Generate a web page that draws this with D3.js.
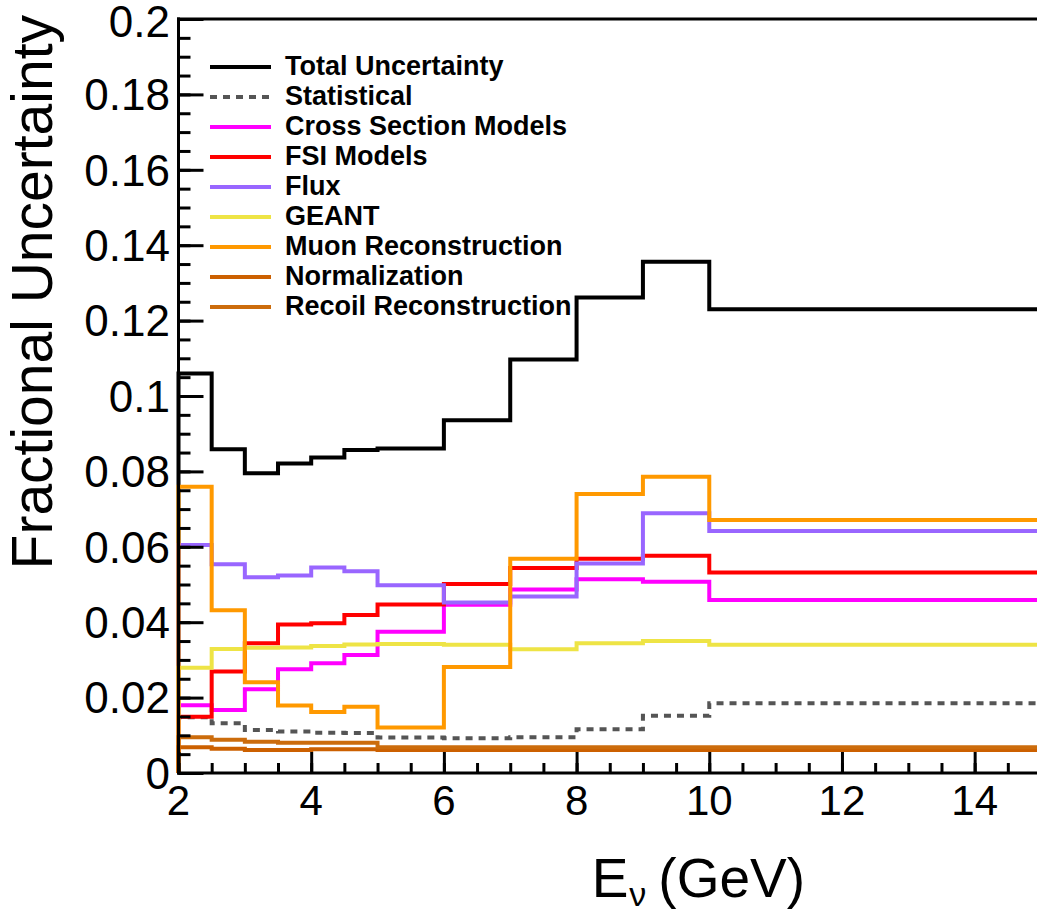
<!DOCTYPE html>
<html>
<head>
<meta charset="utf-8">
<script src="https://cdn.jsdelivr.net/npm/d3@7"></script>
<style>
  body { margin: 0; background: #fff; }
  svg { display: block; }
  text { font-family: "Liberation Sans", Arial, Helvetica, sans-serif; }
</style>
</head>
<body>
<svg id="chart" width="1037" height="920"></svg>
<script>
// ---- data ----
const binEdges = [2, 2.5, 3, 3.5, 4, 4.5, 5, 6, 7, 8, 9, 10, 15];
const totalUnc   = [0.1060, 0.0859, 0.0795, 0.0821, 0.0837, 0.0857, 0.0861, 0.0936, 0.1097, 0.1261, 0.1356, 0.1230];
const statistical= [0.0148, 0.0132, 0.0114, 0.0110, 0.0107, 0.0106, 0.0094, 0.0092, 0.0095, 0.0116, 0.0152, 0.0185];
const xsecModels = [0.0180, 0.0167, 0.0222, 0.0275, 0.0291, 0.0313, 0.0375, 0.0446, 0.0487, 0.0514, 0.0507, 0.0459];
const fsiModels  = [0.0149, 0.0269, 0.0344, 0.0394, 0.0397, 0.0419, 0.0447, 0.0501, 0.0544, 0.0568, 0.0576, 0.0532];
const flux       = [0.0605, 0.0554, 0.0519, 0.0524, 0.0545, 0.0535, 0.0498, 0.0452, 0.0468, 0.0556, 0.0689, 0.0642];
const geant      = [0.0279, 0.0329, 0.0332, 0.0333, 0.0337, 0.0341, 0.0342, 0.0340, 0.0328, 0.0344, 0.0350, 0.0340];
const muonReco   = [0.0759, 0.0432, 0.0241, 0.0179, 0.0162, 0.0176, 0.0121, 0.0281, 0.0568, 0.0740, 0.0786, 0.0671];
const normalization = [0.0068, 0.0064, 0.0061, 0.0061, 0.0063, 0.0063, 0.0061, 0.0061, 0.0061, 0.0061, 0.0061, 0.0061];
const recoilReco = [0.0095, 0.0088, 0.0083, 0.0080, 0.0080, 0.0080, 0.0068, 0.0068, 0.0068, 0.0068, 0.0068, 0.0068];

const seriesNames  = ["Total Uncertainty", "Statistical", "Cross Section Models", "FSI Models", "Flux", "GEANT", "Muon Reconstruction", "Normalization", "Recoil Reconstruction"];
const seriesValues = [totalUnc, statistical, xsecModels, fsiModels, flux, geant, muonReco, normalization, recoilReco];
const seriesColors = ["#000000", "#555555", "#ff00ff", "#ff0000", "#9966ff", "#eee445", "#ff9900", "#cc6000", "#cc6c0c"];
const seriesDash   = [null, "7,6", null, null, null, null, null, null, null];

const yTicks = [0, 0.02, 0.04, 0.06, 0.08, 0.1, 0.12, 0.14, 0.16, 0.18, 0.2];
const yTickLabels = ["0", "0.02", "0.04", "0.06", "0.08", "0.1", "0.12", "0.14", "0.16", "0.18", "0.2"];
const xTicks = [2, 4, 6, 8, 10, 12, 14];
const xTickLabels = ["2", "4", "6", "8", "10", "12", "14"];

// ---- layout ----
const svg = d3.select("#chart");
const pLeft = 178.5, pRight = 1041, pTop = 19, pBottom = 773;
const x = d3.scaleLinear().domain([2, 15]).range([pLeft, pRight]);
const y = d3.scaleLinear().domain([0, 0.2]).range([pBottom, pTop]);

// histogram step path
function stepPoints(vals) {
  const pts = [[binEdges[0], 0]];
  vals.forEach((v, i) => {
    pts.push([binEdges[i], v]);
    pts.push([binEdges[i + 1], v]);
  });
  pts.push([binEdges[binEdges.length - 1], 0]);
  return pts;
}
const line = d3.line().x(d => x(d[0])).y(d => y(d[1]));

const plot = svg.append("g");
seriesValues.forEach((vals, i) => {
  plot.append("path")
    .attr("d", line(stepPoints(vals)))
    .attr("fill", "none")
    .attr("stroke", seriesColors[i])
    .attr("stroke-width", 4)
    .attr("stroke-linejoin", "miter")
    .attr("stroke-dasharray", seriesDash[i]);
});

// ---- axes ----
const yMinor = d3.range(0, 0.2001, 0.005);
const yAxisMinor = d3.axisRight(y).tickValues(yMinor).tickSize(12).tickFormat("");
const yAxisMajor = d3.axisRight(y).tickValues(yTicks).tickSize(25).tickFormat("");
[yAxisMinor, yAxisMajor].forEach(ax => {
  const g = svg.append("g").attr("transform", `translate(${pLeft},0)`).call(ax);
  g.select(".domain").remove();
  g.selectAll("line").attr("stroke", "#000").attr("stroke-width", 3);
});
const xMinor = d3.range(2, 15.001, 0.5);
const xAxisMinor = d3.axisTop(x).tickValues(xMinor).tickSize(10).tickFormat("");
const xAxisMajor = d3.axisTop(x).tickValues(xTicks).tickSize(21).tickFormat("");
[xAxisMinor, xAxisMajor].forEach(ax => {
  const g = svg.append("g").attr("transform", `translate(0,${pBottom})`).call(ax);
  g.select(".domain").remove();
  g.selectAll("line").attr("stroke", "#000").attr("stroke-width", 3);
});

// frame lines
svg.append("line").attr("x1", pLeft).attr("x2", pLeft).attr("y1", pTop - 1.5).attr("y2", pBottom + 1.5)
  .attr("stroke", "#000").attr("stroke-width", 3);
svg.append("line").attr("x1", pLeft - 1.5).attr("x2", 1037).attr("y1", pBottom).attr("y2", pBottom)
  .attr("stroke", "#000").attr("stroke-width", 3);
svg.append("line").attr("x1", pLeft - 1.5).attr("x2", 1037).attr("y1", pTop).attr("y2", pTop)
  .attr("stroke", "#000").attr("stroke-width", 3);

// tick labels
svg.append("g").selectAll("text").data(yTicks).join("text")
  .attr("x", 170).attr("y", d => y(d) + (d === 0.2 ? 2 : 0))
  .attr("dy", "0.36em")
  .attr("text-anchor", "end")
  .attr("font-size", 44)
  .text((d, i) => yTickLabels[i]);
svg.append("g").selectAll("text").data(xTicks).join("text")
  .attr("x", d => x(d)).attr("y", 815)
  .attr("text-anchor", "middle")
  .attr("font-size", 42)
  .text((d, i) => xTickLabels[i]);

// axis titles
svg.append("text")
  .attr("transform", "translate(52,15) rotate(-90)")
  .attr("text-anchor", "end")
  .attr("font-size", 57)
  .text("Fractional Uncertainty");
const xt = svg.append("text").attr("x", 805).attr("y", 897).attr("text-anchor", "end").attr("font-size", 55);
xt.append("tspan").text("E");
xt.append("tspan").attr("font-size", 34).attr("dy", 9).attr("dx", 1).text("ν");
xt.append("tspan").attr("dy", -9).attr("dx", 12).text("(GeV)");

// legend
const leg = svg.append("g");
seriesNames.forEach((name, i) => {
  const ly = 67 + i * 30;
  leg.append("line").attr("x1", 210).attr("x2", 271).attr("y1", ly).attr("y2", ly)
    .attr("stroke", seriesColors[i]).attr("stroke-width", 4)
    .attr("stroke-dasharray", seriesDash[i]);
  leg.append("text").attr("x", 285).attr("y", ly - 2).attr("dy", "0.36em")
    .attr("font-size", 27).attr("font-weight", "bold").text(name);
});
</script>
</body>
</html>
